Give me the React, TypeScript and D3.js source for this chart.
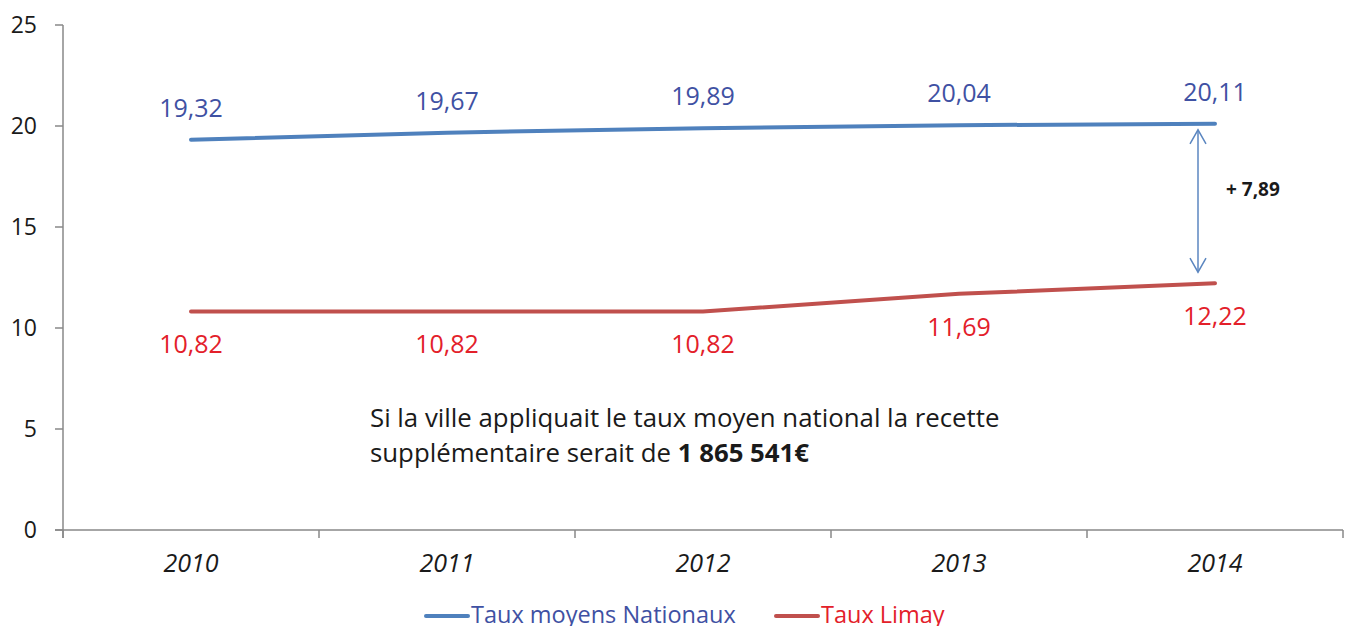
import React, { useEffect, useRef } from "react";
import * as d3 from "d3";

const years = ["2010", "2011", "2012", "2013", "2014"];
const nationalValues = [19.32, 19.67, 19.89, 20.04, 20.11];
const limayValues = [10.82, 10.82, 10.82, 11.69, 12.22];
const yTicks = [0, 5, 10, 15, 20, 25];
const seriesNames = ["Taux moyens Nationaux", "Taux Limay"];
const gapLabel = "+ 7,89";
const noteLine1 = "Si la ville appliquait le taux moyen national la recette";
const noteLine2 = "supplémentaire serait de ";
const noteBold = "1 865 541€";

const W = 1349;
const H = 626;
const FONT = "'Open Sans', 'Noto Sans', sans-serif";

export default function App() {
  const ref = useRef<SVGSVGElement | null>(null);

  useEffect(() => {
    const svg = d3.select(ref.current);
    svg.selectAll("*").remove();

    const left = 63, right = 1343, top = 25, bottom = 530;
    const x = d3.scaleBand<string>().domain(years).range([left, right]);
    const y = d3.scaleLinear().domain([0, 25]).range([bottom, top]);
    const cx = (d: string) => (x(d) as number) + x.bandwidth() / 2;
    const axisColor = "#898989";

    // y axis
    svg.append("line").attr("x1", left).attr("x2", left).attr("y1", y(25)).attr("y2", y(0) + 8)
      .attr("stroke", axisColor).attr("stroke-width", 1.5);
    yTicks.forEach((t) => {
      svg.append("line").attr("x1", left - 8).attr("x2", left).attr("y1", y(t)).attr("y2", y(t))
        .attr("stroke", axisColor).attr("stroke-width", 1.5);
      svg.append("text").attr("x", 37).attr("y", y(t)).attr("dy", "0.36em")
        .attr("text-anchor", "end").attr("font-family", FONT).attr("font-size", 23)
        .attr("fill", "#1a1a1a").text(String(t));
    });

    // x axis
    svg.append("line").attr("x1", left - 8).attr("x2", right).attr("y1", bottom).attr("y2", bottom)
      .attr("stroke", axisColor).attr("stroke-width", 1.5);
    const xTickPos = years.map((d) => x(d) as number).concat([right]);
    xTickPos.forEach((p) => {
      svg.append("line").attr("x1", p).attr("x2", p).attr("y1", bottom).attr("y2", bottom + 8)
        .attr("stroke", axisColor).attr("stroke-width", 1.5);
    });
    years.forEach((d) => {
      svg.append("text").attr("x", cx(d)).attr("y", 572).attr("text-anchor", "middle")
        .attr("font-family", FONT).attr("font-size", 25).attr("font-style", "italic")
        .attr("fill", "#1a1a1a").text(d);
    });

    const line = d3.line<number>().x((_, i) => cx(years[i])).y((v) => y(v));

    svg.append("path").datum(nationalValues).attr("d", line).attr("fill", "none")
      .attr("stroke", "#4F81BD").attr("stroke-width", 4).attr("stroke-linecap", "round");
    svg.append("path").datum(limayValues).attr("d", line).attr("fill", "none")
      .attr("stroke", "#C0504D").attr("stroke-width", 4).attr("stroke-linecap", "round");

    const fmt = (v: number) => v.toFixed(2).replace(".", ",");
    nationalValues.forEach((v, i) => {
      svg.append("text").attr("x", cx(years[i])).attr("y", y(v) - 23)
        .attr("text-anchor", "middle").attr("font-family", FONT).attr("font-size", 25)
        .attr("fill", "#3F51A3").text(fmt(v));
    });
    limayValues.forEach((v, i) => {
      svg.append("text").attr("x", cx(years[i])).attr("y", y(v) + 42)
        .attr("text-anchor", "middle").attr("font-family", FONT).attr("font-size", 25)
        .attr("fill", "#E3202A").text(fmt(v));
    });

    // double arrow
    const ax = 1198;
    const a1 = y(nationalValues[4]) + 6;
    const a2 = y(limayValues[4]) - 11;
    const arrowColor = "#5B86C0";
    svg.append("line").attr("x1", ax).attr("x2", ax).attr("y1", a1).attr("y2", a2)
      .attr("stroke", arrowColor).attr("stroke-width", 1.5);
    svg.append("path").attr("d", `M${ax - 8},${a1 + 14} L${ax},${a1} L${ax + 8},${a1 + 14}`)
      .attr("fill", "none").attr("stroke", arrowColor).attr("stroke-width", 1.5);
    svg.append("path").attr("d", `M${ax - 8},${a2 - 14} L${ax},${a2} L${ax + 8},${a2 - 14}`)
      .attr("fill", "none").attr("stroke", arrowColor).attr("stroke-width", 1.5);
    svg.append("text").attr("x", 1226).attr("y", 196).attr("font-family", FONT)
      .attr("font-size", 19).attr("font-weight", "bold").attr("fill", "#1a1a1a").text(gapLabel);

    // note
    svg.append("text").attr("x", 370).attr("y", 427).attr("font-family", FONT)
      .attr("font-size", 25.8).attr("fill", "#1a1a1a").text(noteLine1);
    const t2 = svg.append("text").attr("x", 370).attr("y", 462).attr("font-family", FONT)
      .attr("font-size", 25.8).attr("fill", "#1a1a1a");
    t2.append("tspan").text(noteLine2);
    t2.append("tspan").attr("font-weight", "bold").text(noteBold);

    // legend
    const ly = 616;
    svg.append("line").attr("x1", 426).attr("x2", 468).attr("y1", ly).attr("y2", ly)
      .attr("stroke", "#4F81BD").attr("stroke-width", 4).attr("stroke-linecap", "round");
    svg.append("text").attr("x", 471).attr("y", 623).attr("font-family", FONT)
      .attr("font-size", 23.5).attr("fill", "#3F51A3").text(seriesNames[0]);
    svg.append("line").attr("x1", 776).attr("x2", 818).attr("y1", ly).attr("y2", ly)
      .attr("stroke", "#C0504D").attr("stroke-width", 4).attr("stroke-linecap", "round");
    svg.append("text").attr("x", 821).attr("y", 623).attr("font-family", FONT)
      .attr("font-size", 23.5).attr("fill", "#E3202A").text(seriesNames[1]);
  }, []);

  return (
    <svg
      ref={ref}
      width={W}
      height={H}
      style={{ position: "fixed", left: 0, top: 0, background: "#fff", display: "block" }}
    />
  );
}
